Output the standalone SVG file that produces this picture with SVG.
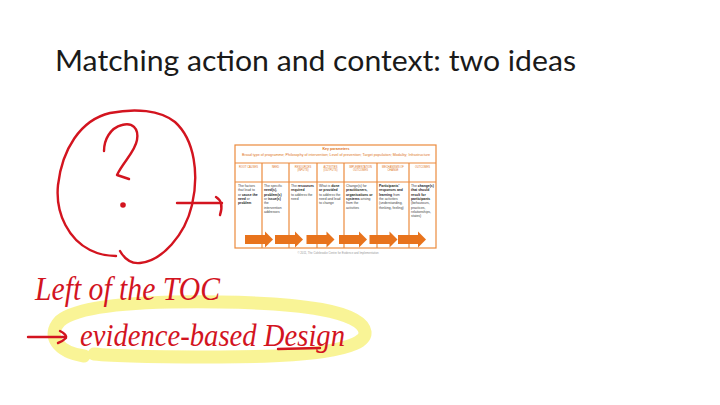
<svg xmlns="http://www.w3.org/2000/svg" width="720" height="405" viewBox="0 0 720 405">
  <style>
    .title { font-family: Lato, "Open Sans", "Liberation Sans", sans-serif; font-weight: 400; font-size: 28px; fill: #1a1a1a; }
    .ink { fill: none; stroke: #d3141f; stroke-width: 2.4; stroke-linecap: round; stroke-linejoin: round; }
    .inktext { font-family: "Liberation Serif", "DejaVu Serif", serif; font-style: italic; fill: #d3141f; }
    .hl { fill: none; stroke: #f6ef6a; stroke-opacity: 0.7; stroke-width: 13; stroke-linecap: round; }
    .grid { fill: none; stroke: #ec8a3c; stroke-width: 1.2; }
    .kp { font-family: "Liberation Sans", sans-serif; fill: #e07520; text-anchor: middle; }
    .colh { font-family: "Liberation Sans", sans-serif; font-size: 2.6px; fill: #e07520; text-anchor: middle; }
    .body { font-family: "Liberation Sans", sans-serif; font-size: 3.4px; fill: #444; }
    .body .b { font-weight: bold; fill: #222; }
    .flow { fill: #e8731c; }
    .foot { font-family: "Liberation Sans", sans-serif; font-size: 2.8px; fill: #999; text-anchor: middle; }
  </style>
  <defs>
    <path id="blockArrow" d="M0,-4.5 H20 V-8 L28,0 L20,8 V4.5 H0 Z"/>
  </defs>

  <rect width="720" height="405" fill="#fff"/>

  <g id="title">
    <text class="title" x="55" y="71" textLength="521" lengthAdjust="spacingAndGlyphs">Matching action and context: two ideas</text>
  </g>

  <!-- highlighter ring under the second annotation line -->
  <g id="highlight">
    <path class="hl" d="M84,356 C58,352 46,336 60,321 C80,304 150,301 220,302 C300,303 362,311 365,332 C367,351 300,357 220,357 C160,357 112,356 94,354"/>
  </g>

  <g id="question">
    <path class="ink" d="M120,251 C124,258 130,264 140,263 C162,261 185,235 192,205 C199,175 195,140 175,122 C160,110 135,108 110,113 C80,120 62,150 58,185 C55,215 70,240 90,250 C100,255 110,256 116,256"/>
    <path class="ink" stroke-width="3.2" d="M104,151 C104,140 110,128 122,125 C132,122 139,128 137,140 C135,152 123,162 117,175 L129,179"/>
    <circle cx="123" cy="205" r="2.8" fill="#d3141f"/>
  </g>

  <!-- logic-model table: key parameters, seven stages, flow arrows -->
  <g id="logic-model">
    <rect x="235" y="145" width="201" height="103" fill="#fff" class="grid"/>
    <line class="grid" x1="235" y1="163" x2="436" y2="163"/>
    <line class="grid" x1="235" y1="182" x2="436" y2="182"/>
    <g class="grid">
      <line x1="262" y1="163" x2="262" y2="248"/>
      <line x1="289" y1="163" x2="289" y2="248"/>
      <line x1="317" y1="163" x2="317" y2="248"/>
      <line x1="344" y1="163" x2="344" y2="248"/>
      <line x1="377" y1="163" x2="377" y2="248"/>
      <line x1="409" y1="163" x2="409" y2="248"/>
    </g>
    <text class="kp" x="336" y="150" font-size="3.6" font-weight="bold">Key parameters</text>
    <text class="kp" x="336" y="156" font-size="2.9" textLength="188" lengthAdjust="spacingAndGlyphs">Broad type of programme; Philosophy of intervention; Level of prevention; Target population; Modality; Infrastructure</text>

    <text class="colh" x="248.5" y="168">ROOT CAUSES</text>
    <text class="colh" x="275.5" y="168">NEED</text>
    <text class="colh" x="303" y="168">RESOURCES<tspan x="303" dy="3.4">(INPUTS)</tspan></text>
    <text class="colh" x="330.5" y="168">ACTIVITIES<tspan x="330.5" dy="3.4">(OUTPUTS)</tspan></text>
    <text class="colh" x="360.5" y="168">IMPLEMENTATION<tspan x="360.5" dy="3.4">OUTCOMES</tspan></text>
    <text class="colh" x="393" y="168">MECHANISMS OF<tspan x="393" dy="3.4">CHANGE</tspan></text>
    <text class="colh" x="422.5" y="168">OUTCOMES</text>

    <text class="body" x="238" y="187">The factors<tspan x="238" dy="4.3">that lead to</tspan><tspan x="238" dy="4.3">or </tspan><tspan class="b">cause the</tspan><tspan x="238" dy="4.3" class="b">need</tspan><tspan> or</tspan><tspan x="238" dy="4.3" class="b">problem</tspan></text>
    <text class="body" x="264" y="187">The specific<tspan x="264" dy="4.3" class="b">need(s),</tspan><tspan x="264" dy="4.3" class="b">problem(s)</tspan><tspan x="264" dy="4.3">or </tspan><tspan class="b">issue(s)</tspan><tspan x="264" dy="4.3">the</tspan><tspan x="264" dy="4.3">intervention</tspan><tspan x="264" dy="4.3">addresses</tspan></text>
    <text class="body" x="291" y="187">The <tspan class="b">resources</tspan><tspan x="291" dy="4.3" class="b">required</tspan><tspan x="291" dy="4.3">to address the</tspan><tspan x="291" dy="4.3">need</tspan></text>
    <text class="body" x="319" y="187">What is <tspan class="b">done</tspan><tspan x="319" dy="4.3" class="b">or provided</tspan><tspan x="319" dy="4.3">to address the</tspan><tspan x="319" dy="4.3">need and lead</tspan><tspan x="319" dy="4.3">to change</tspan></text>
    <text class="body" x="346" y="187">Change(s) for<tspan x="346" dy="4.3" class="b">practitioners,</tspan><tspan x="346" dy="4.3" class="b">organisations or</tspan><tspan x="346" dy="4.3" class="b">systems</tspan><tspan> arising</tspan><tspan x="346" dy="4.3">from the</tspan><tspan x="346" dy="4.3">activities</tspan></text>
    <text class="body" x="379" y="187"><tspan class="b">Participants'</tspan><tspan x="379" dy="4.3" class="b">responses and</tspan><tspan x="379" dy="4.3" class="b">learning</tspan><tspan> from</tspan><tspan x="379" dy="4.3">the activities</tspan><tspan x="379" dy="4.3">(understanding,</tspan><tspan x="379" dy="4.3">thinking, feeling)</tspan></text>
    <text class="body" x="411" y="187">The <tspan class="b">change(s)</tspan><tspan x="411" dy="4.3" class="b">that should</tspan><tspan x="411" dy="4.3" class="b">result for</tspan><tspan x="411" dy="4.3" class="b">participants</tspan><tspan x="411" dy="4.3">(behaviours,</tspan><tspan x="411" dy="4.3">practices,</tspan><tspan x="411" dy="4.3">relationships,</tspan><tspan x="411" dy="4.3">states)</tspan></text>

    <g class="flow">
      <use href="#blockArrow" x="245" y="239.5"/>
      <use href="#blockArrow" x="275" y="239.5"/>
      <use href="#blockArrow" x="306.5" y="239.5"/>
      <use href="#blockArrow" x="339" y="239.5"/>
      <use href="#blockArrow" x="369.5" y="239.5"/>
      <use href="#blockArrow" x="398" y="239.5"/>
    </g>
    <text class="foot" x="338" y="254">© 2011, The Colebrooke Centre for Evidence and Implementation</text>
  </g>

  <g id="annotation">
    <text class="inktext" x="35" y="300" font-size="34" textLength="185" lengthAdjust="spacingAndGlyphs">Left of the TOC</text>
    <text class="inktext" x="80" y="346" font-size="32" textLength="265" lengthAdjust="spacingAndGlyphs">evidence-based Design</text>
    <path class="ink" d="M278,349 L320,348"/>
  </g>

  <g id="connectors">
    <path class="ink" d="M177,203 L222,203"/>
    <path class="ink" d="M216,197 C221,200 223,206 220,215"/>
    <path class="ink" d="M28,337 L66,337"/>
    <path class="ink" d="M60,331 C64,333 67,336 66,338 C64,340 61,342 58,343"/>
  </g>
</svg>
